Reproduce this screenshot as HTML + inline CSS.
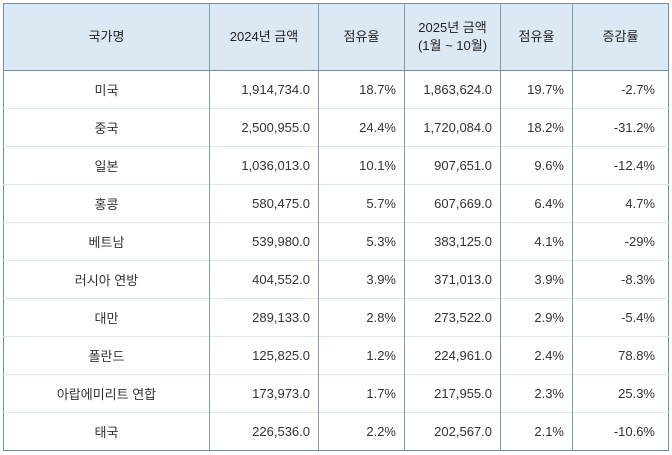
<!DOCTYPE html>
<html><head><meta charset="utf-8"><style>
body{margin:0;background:#fff;width:672px;height:455px;overflow:hidden}
table{position:absolute;left:3px;top:3px;border-collapse:collapse;font-family:"Liberation Sans","Noto Sans CJK KR",sans-serif;font-size:13px;color:#333;table-layout:fixed;border:1.5px solid #6f8fa8}
th{background:#dce9f5;height:64px;font-weight:normal;color:#222;text-align:center;border-left:1px solid #7f9db5;border-bottom:1.5px solid #6f8fa8;line-height:18px}
td{height:37px;border-left:1px solid #7f9db5;border-top:1px solid #dbe6ee;text-align:right;padding:0 8px}
td:last-child{padding-right:13px}
td.c{text-align:center}
th:first-child,td:first-child{border-left:none}
</style></head><body>
<table>
<colgroup><col style="width:206px"><col style="width:109px"><col style="width:86px"><col style="width:96px"><col style="width:72px"><col style="width:96px"></colgroup>
<thead><tr>
<th>국가명</th>
<th>2024년 금액</th>
<th>점유율</th>
<th>2025년 금액<br>(1월 ~ 10월)</th>
<th>점유율</th>
<th>증감률</th>
</tr></thead>
<tbody>
<tr><td class="c">미국</td><td>1,914,734.0</td><td>18.7%</td><td>1,863,624.0</td><td>19.7%</td><td>-2.7%</td></tr>
<tr><td class="c">중국</td><td>2,500,955.0</td><td>24.4%</td><td>1,720,084.0</td><td>18.2%</td><td>-31.2%</td></tr>
<tr><td class="c">일본</td><td>1,036,013.0</td><td>10.1%</td><td>907,651.0</td><td>9.6%</td><td>-12.4%</td></tr>
<tr><td class="c">홍콩</td><td>580,475.0</td><td>5.7%</td><td>607,669.0</td><td>6.4%</td><td>4.7%</td></tr>
<tr><td class="c">베트남</td><td>539,980.0</td><td>5.3%</td><td>383,125.0</td><td>4.1%</td><td>-29%</td></tr>
<tr><td class="c">러시아 연방</td><td>404,552.0</td><td>3.9%</td><td>371,013.0</td><td>3.9%</td><td>-8.3%</td></tr>
<tr><td class="c">대만</td><td>289,133.0</td><td>2.8%</td><td>273,522.0</td><td>2.9%</td><td>-5.4%</td></tr>
<tr><td class="c">폴란드</td><td>125,825.0</td><td>1.2%</td><td>224,961.0</td><td>2.4%</td><td>78.8%</td></tr>
<tr><td class="c">아랍에미리트 연합</td><td>173,973.0</td><td>1.7%</td><td>217,955.0</td><td>2.3%</td><td>25.3%</td></tr>
<tr><td class="c">태국</td><td>226,536.0</td><td>2.2%</td><td>202,567.0</td><td>2.1%</td><td>-10.6%</td></tr>
</tbody></table>
</body></html>
